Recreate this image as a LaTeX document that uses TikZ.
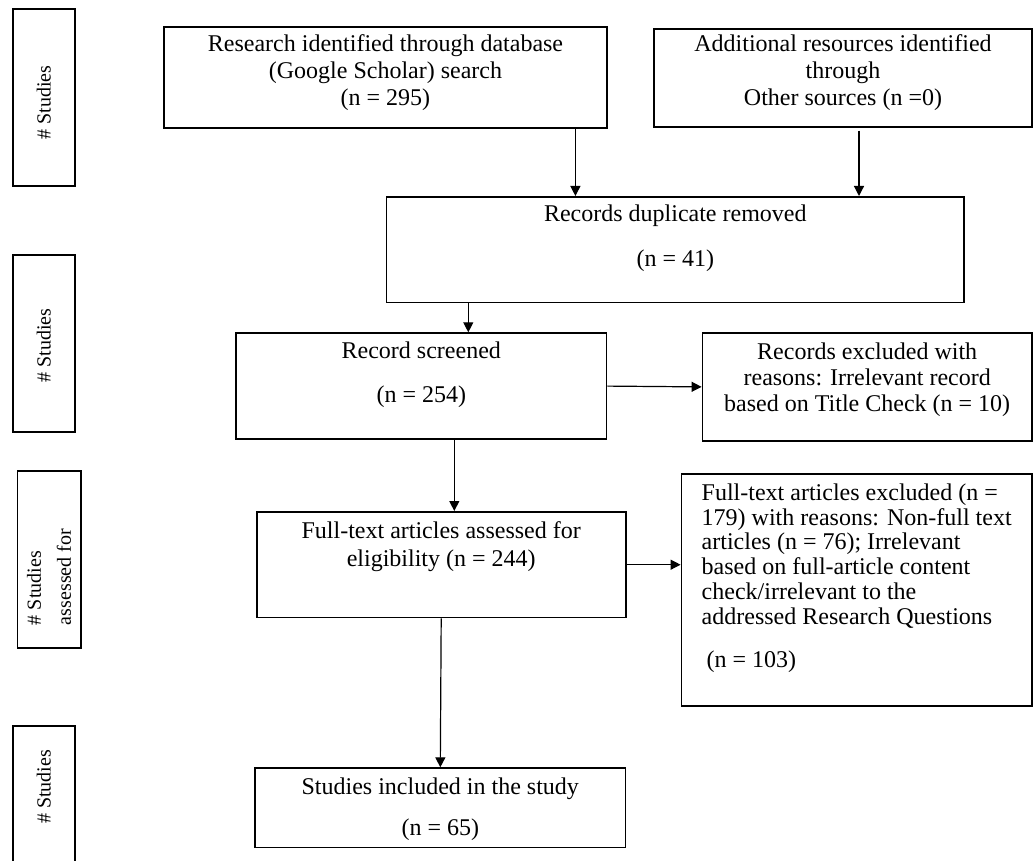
\documentclass[tikz,border=0pt]{standalone}
\usepackage{fontspec}
\setmainfont{Liberation Serif}
\usetikzlibrary{arrows.meta}
\newcommand{\topgap}[1]{\rule{0pt}{#1}}
\newcommand{\botgap}[1]{\rule[-#1]{0pt}{#1}}

\begin{document}
\begin{tikzpicture}[x=0.5pt, y=0.5pt,
    >={Triangle[length=5pt,width=5pt]},
    flow/.style={draw, line width=0.8pt, inner sep=0pt, anchor=north,
        align=center, font=\fontsize{12}{13.5}\selectfont},
    side/.style={draw, line width=0.8pt, inner sep=0pt, rotate=90,
        minimum height=31pt, align=left, font=\fontsize{10}{15}\selectfont},
    link/.style={->, line width=0.6pt}]
    \useasboundingbox (0, 0) rectangle (1034, -861);

    \path (43.7, -97.5) node [side, minimum width=88.5pt] (st1) {\# Studies\hspace*{5pt}};
    \path (43.7, -343.5) node [side, minimum width=88.5pt] (st2) {\# Studies\hspace*{2pt}};
    \path (49, -559.5) node [side, minimum width=88.5pt, minimum height=31.7pt] (st3)
	{\# Studies\\assessed for\hspace*{17.5pt}};
    \path (43.7, -803) node [side, minimum width=77pt] (st4) {\hspace*{16pt}\# Studies};

    \path (385.5, -26) node [flow, minimum width=221.5pt] (db)
	{\topgap{12.5pt}Research identified through database\\(Google Scholar) search\\(n = 295)\botgap{11pt}};
    \path (843, -28) node [flow, minimum width=189pt] (oth)
	{\topgap{11.5pt}Additional resources identified\\through\\Other sources (n =0)\botgap{10.5pt}};
    \path (675.3, -196) node [flow, minimum width=288.7pt, font=\fontsize{12}{22.5}\selectfont] (dup)
	{\topgap{12.5pt}Records duplicate removed\\(n = 41)\botgap{17.8pt}};
    \path (421.3, -332.3) node [flow, minimum width=185.3pt, font=\fontsize{12}{22}\selectfont] (scr)
	{\topgap{12.5pt}Record screened\\(n = 254)\botgap{18.5pt}};
    \path (867.2, -332.3) node [flow, minimum width=164.8pt, font=\fontsize{12}{13}\selectfont] (exc)
	{\topgap{13.2pt}Records excluded with\\reasons: Irrelevant record\\based on Title Check (n = 10)\botgap{14.6pt}};
    \path (441.2, -511) node [flow, minimum width=184.5pt, font=\fontsize{12}{14.2}\selectfont] (elig)
	{\topgap{13.2pt}Full-text articles assessed for\\eligibility (n = 244)\botgap{25.5pt}};
    \path (856.7, -473.3) node [flow, minimum width=175.3pt, align=left, font=\fontsize{12}{12.35}\selectfont] (fex)
	{\topgap{13.2pt}Full-text articles excluded (n =\\179) with reasons: Non-full text\\articles (n = 76); Irrelevant\\based on full-article content\\check/irrelevant to the\\addressed Research Questions\\[9.35pt]\hspace*{2.5pt}(n = 103)\botgap{19.3pt}};
    \path (440.3, -767.3) node [flow, minimum width=185.3pt, font=\fontsize{12}{20.3}\selectfont] (inc)
	{\topgap{13.3pt}Studies included in the study\\(n = 65)\botgap{6pt}};

    \coordinate (dbo) at ([xshift=-16.2pt]db.south east);
    \coordinate (otho) at ([xshift=8pt,yshift=-1.5pt]oth.south);
    \coordinate (scri) at ([xshift=23.5pt]scr.north);
    \coordinate (scro) at ([xshift=16.5pt]scr.south);
    \draw [link] (dbo) -- (dbo |- dup.north);
    \draw [link] (otho) -- (otho |- dup.north);
    \draw [link] (scri |- dup.south) -- (scri);
    \draw [link] (scr.east) -- (exc.west);
    \draw [link] (scro) -- (scro |- elig.north);
    \draw [link] (elig.east) -- (elig.east -| fex.west);
    \draw [link] (elig.south) -- (inc.north);
\end{tikzpicture}
\end{document}
